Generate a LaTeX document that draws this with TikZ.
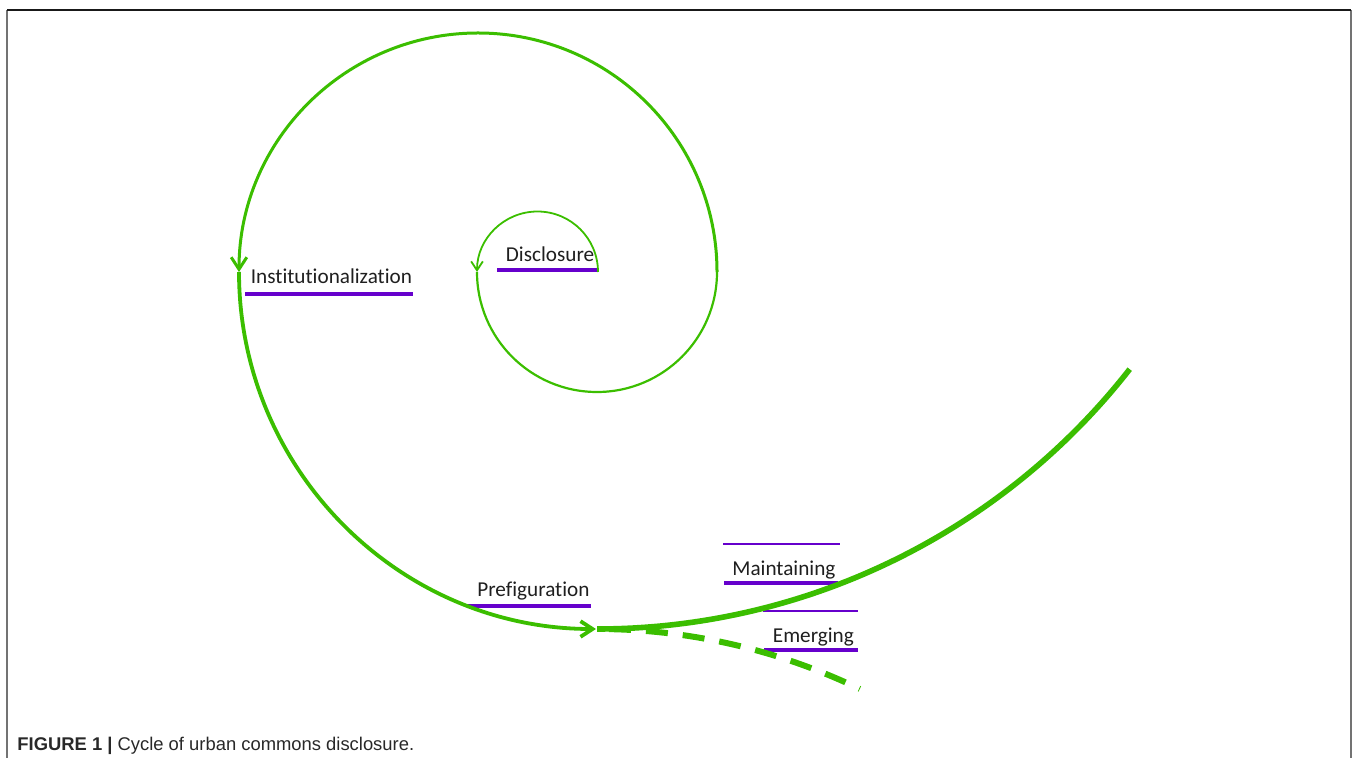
\documentclass[tikz,border=0pt]{standalone}
\usepackage{fontspec}
\setmainfont{Carlito}[Ligatures=NoCommon]
\newfontfamily\capfont{Liberation Sans}
\usetikzlibrary{arrows.meta}
\definecolor{spiralgreen}{RGB}{59,190,0}
\definecolor{linepurple}{RGB}{102,0,204}
\definecolor{captiongray}{RGB}{40,40,40}
\tikzset{
  lbl/.style={anchor=base west, inner sep=0pt, font=\fontsize{10.6pt}{12pt}\selectfont, text=black!88},
  thickline/.style={draw=linepurple, line width=2pt},
  thinline/.style={draw=linepurple, line width=0.7pt},
  spiral/.style={draw=spiralgreen},
  tip/.style={-{Straight Barb[length=#1, width=1.3*#1]}},
  framegray/.style={draw=black!55, line width=1pt},
}
\begin{document}
\begin{tikzpicture}[x=0.5pt, y=-0.5pt]
\useasboundingbox (0,0) rectangle (1358,758);
% frame
\draw[framegray] (7,10) -- (7,758);
\draw[framegray] (1351,10) -- (1351,758);
\draw[black!90, line width=1pt] (7,10) -- (1351,10);

% underlines
\draw[thickline] (497,270) -- (597,270);
\draw[thickline] (245,294) -- (413,294);
\draw[thickline] (467,606) -- (591,606);
\draw[thinline] (723,544) -- (840,544);
\draw[thickline] (724,583) -- (838,583);
\draw[thinline] (763,611) -- (858,611);
\draw[thickline] (764,650) -- (858,650);

% labels
\node[lbl] (disc) at (505.5,261.5) {Disclosure};
\node[lbl] (inst) at (250.5,283.5) {Institutionalization};
\node[lbl] (pref) at (477,596) {Prefiguration};
\node[lbl] (main) at (732,575) {Maintaining};
\node[lbl] (emer) at (772.5,642) {Emerging};

% spiral
\coordinate (s0) at (598,272);
\coordinate (s1) at (477,272);
\coordinate (s2) at (717,272);
\coordinate (s3) at (239,272);
\coordinate (s4) at (597,629);
\draw[spiral, line width=0.9pt, tip=4.5pt] (s0) arc[start angle=0, end angle=-180, radius=60.5];
\draw[spiral, line width=1.1pt] (s1) arc[start angle=180, end angle=0, radius=120];
\draw[spiral, line width=1.5pt, tip=6pt] (s2) arc[start angle=0, end angle=-180, radius=239];
\draw[spiral, line width=1.9pt, tip=6pt] (s3) arc[start angle=180, end angle=90, radius=357];
\draw[spiral, line width=2.8pt] (s4) arc[start angle=90, end angle=38, radius=676];
\draw[spiral, line width=3pt, dash pattern=on 11pt off 7.5pt, dash phase=-6pt] (s4) arc[start angle=-90, end angle=-64.3, radius=606];

% caption
\node[anchor=base west, inner sep=0pt, text=captiongray, font=\capfont\fontsize{9.2pt}{11pt}\selectfont] (cap) at (17,750) {\textbf{FIGURE 1 |} Cycle of urban commons disclosure.};
\end{tikzpicture}
\end{document}
